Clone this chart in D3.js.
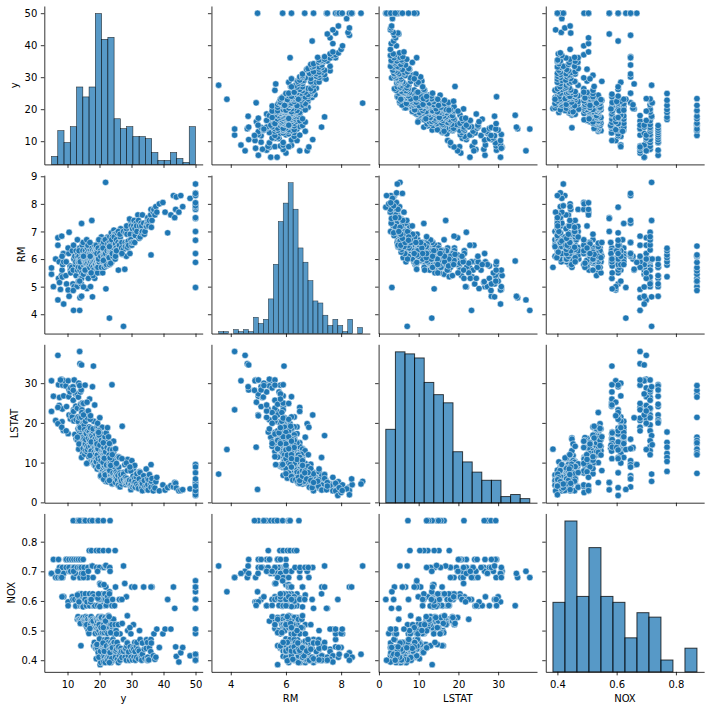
<!DOCTYPE html>
<html><head><meta charset="utf-8">
<script src="https://cdn.jsdelivr.net/npm/d3@7"></script>
<style>
body{margin:0;background:#fff}
svg text{font-family:"DejaVu Sans",sans-serif;font-size:10px;fill:#000}
</style>
</head><body><svg id="c" width="709" height="709"></svg>
<script>
// variables shown (column order)
const variables = ["y", "RM", "LSTAT", "NOX"];

const observations = [
[5.0,5.45,30.6,.693],[5.0,5.68,22.9,.693],[5.6,5.0,26.7,.74],[6.3,6.0,20.6,.679],
[7.0,4.52,37.0,.70],[7.2,5.3,29.6,.74],[7.4,5.9,24.4,.70],[7.5,5.15,26.4,.713],[8.1,5.4,31.0,.70],[8.3,5.6,30.8,.693],[8.4,5.35,23.5,.713],[8.5,5.8,29.5,.679],[8.7,6.2,18.1,.614],[8.8,4.37,30.6,.693],[8.8,5.9,26.8,.614],[8.3,6.1,20.3,.614],[7.0,6.5,23.9,.679],[7.8,4.9,30.8,.679],[7.0,6.77,19.8,.70],[8.2,6.83,18.9,.679],
[9.5,5.4,29.3,.74],[9.7,5.1,24.1,.74],[10.2,4.88,30.6,.597],[10.4,6.2,26.6,.70],[10.5,4.65,28.3,.74],[10.8,5.75,27.8,.713],[10.2,6.4,17.3,.584],[9.6,5.9,18.0,.713],[10.9,5.6,21.0,.70],[10.5,6.97,22.0,.713],
[11.0,5.5,28.8,.70],[11.3,5.7,22.0,.74],[11.5,6.3,21.5,.614],[11.7,5.1,29.1,.605],[11.8,5.6,25.7,.713],[11.9,4.14,23.3,.679],[12.0,6.0,20.5,.74],[12.1,5.0,30.8,.713],[12.3,6.1,17.1,.605],[12.5,5.8,27.3,.693],[12.7,5.4,20.8,.74],[12.7,6.3,16.0,.583],[13.0,5.0,27.3,.871],[11.9,6.5,22.9,.70],[12.6,5.9,24.2,.583],[11.8,4.86,28.2,.871],
[13.1,5.6,23.7,.713],[13.1,6.1,15.7,.538],[13.3,5.9,18.5,.547],[13.3,6.2,21.5,.605],[13.4,5.18,26.5,.871],[13.4,5.7,20.3,.74],[13.5,5.9,13.4,.624],[13.6,6.1,18.1,.538],[13.8,4.14,37.97,.679],[13.8,5.95,21.3,.713],[13.8,6.4,19.0,.624],[13.9,5.6,17.6,.538],[14.0,5.3,27.8,.584],[14.1,6.0,16.9,.532],[14.1,5.7,24.7,.74],[14.2,6.3,16.2,.449],[14.3,5.1,28.3,.713],[14.4,5.3,21.4,.871],[14.4,6.2,18.3,.624],[14.5,5.9,23.3,.605],[14.5,5.5,22.6,.538],[14.6,6.5,15.0,.609],[14.8,6.0,14.3,.584],[14.9,5.8,20.0,.74],[14.9,6.15,19.8,.544],[15.0,5.45,16.4,.871],[13.5,5.2,30.0,.614],[14.6,5.9,25.0,.583],[13.6,6.3,14.7,.597],[14.0,5.9,18.8,.524],[14.8,6.3,12.3,.614],[13.8,5.2,29.4,.871],[13.9,4.6,34.9,.679],[14.4,4.65,34.6,.693],[14.4,7.29,11.3,.624],[14.9,6.6,13.6,.58],[13.1,6.7,16.4,.62],
[15.2,5.96,19.5,.713],[15.2,6.1,16.0,.532],[15.3,6.0,18.3,.538],[15.4,5.62,12.1,.871],[15.4,6.2,14.5,.605],[15.6,5.57,14.7,.871],[15.6,5.85,20.4,.624],[15.6,6.3,13.0,.52],[15.7,6.0,17.6,.538],[15.7,5.9,15.8,.547],[15.9,6.05,17.3,.584],[16.0,5.85,22.6,.605],[16.1,6.2,12.7,.51],[16.1,5.95,14.1,.538],[16.2,6.4,13.3,.544],[16.3,5.9,21.2,.679],[16.4,6.0,18.0,.713],[16.5,5.7,16.1,.50],[16.6,6.1,13.9,.532],[16.7,6.3,11.4,.49],[16.8,5.36,17.7,.77],[16.8,6.0,19.0,.52],[16.9,6.2,15.2,.624],[16.9,5.8,26.0,.584],[15.0,6.1,24.9,.679],[15.5,5.6,29.5,.605],[16.4,6.5,10.0,.538],[16.1,4.93,25.2,.597],[15.0,4.99,22.0,.693],[16.0,6.7,9.8,.52],[16.5,5.3,23.0,.70],
[17.0,5.69,15.6,.871],[17.1,6.0,16.9,.538],[17.2,6.3,14.1,.52],[17.2,5.9,18.7,.605],[17.3,6.1,13.0,.544],[17.4,6.2,12.9,.547],[17.5,5.78,15.1,.77],[17.5,6.0,17.0,.532],[17.6,7.4,16.8,.718],[17.7,6.4,11.7,.51],[17.8,4.63,29.1,.718],[17.8,5.88,15.0,.871],[17.8,6.3,14.7,.538],[17.9,6.1,16.3,.624],[18.0,5.7,18.0,.679],[18.1,5.93,34.3,.584],[18.2,6.25,10.3,.449],[18.3,6.2,12.6,.524],[18.4,6.05,15.8,.585],[18.4,6.5,9.5,.46],[18.5,5.95,13.9,.538],[18.6,6.3,12.0,.52],[18.7,5.8,16.0,.532],[18.7,6.2,11.1,.49],[18.8,6.4,10.2,.448],[18.9,6.0,17.1,.524],[18.9,6.1,14.4,.51],[19.0,5.9,13.9,.77],[18.2,5.6,20.4,.614],[17.1,6.1,20.9,.605],[18.5,5.3,24.5,.584],[17.2,5.0,21.8,.597],[17.0,6.6,11.8,.507],[18.0,5.4,18.5,.532],[18.8,5.8,9.1,.44],[17.4,5.5,15.2,.605],
[19.0,6.0,15.2,.538],[19.1,6.33,15.5,.713],[19.1,5.7,11.5,.449],[19.2,6.4,13.0,.52],[19.2,5.9,18.9,.538],[19.3,6.1,8.4,.437],[19.3,5.6,12.8,.507],[19.4,6.08,13.4,.871],[19.4,6.45,14.1,.532],[19.4,5.8,17.7,.585],[19.5,6.0,9.5,.448],[19.5,6.2,16.3,.493],[19.6,6.12,12.5,.871],[19.6,5.85,11.9,.44],[19.6,6.3,19.0,.614],[19.7,5.9,12.3,.51],[19.7,6.6,10.9,.453],[19.8,6.0,16.6,.538],[19.8,5.5,14.1,.547],[19.9,6.05,12.3,.77],[19.9,6.25,8.8,.46],[19.9,5.75,13.8,.50],[20.0,6.51,14.0,.713],[20.0,5.9,11.2,.431],[20.0,6.3,17.0,.524],[20.1,6.0,9.7,.44],[20.1,6.15,15.4,.538],[20.2,5.7,13.4,.385],[20.2,6.45,8.9,.448],[20.3,5.95,12.4,.51],[20.3,6.2,18.6,.544],[20.4,6.5,10.3,.46],[20.4,5.8,13.8,.489],[20.5,6.1,9.4,.445],[20.5,6.4,15.0,.532],[20.6,5.85,11.8,.453],[20.6,6.2,7.1,.435],[20.6,5.6,17.2,.605],[20.7,6.4,12.0,.52],[20.7,6.0,15.9,.449],[20.8,6.25,10.7,.438],[20.8,5.95,18.9,.624],[20.8,6.6,13.4,.51],[20.9,6.0,9.8,.46],[20.9,5.7,11.4,.493],[20.9,6.3,16.0,.538],[21.0,6.1,8.5,.428],[21.0,5.85,12.6,.52],[21.0,6.7,7.9,.464],[20.1,5.6,21.3,.659],[20.3,6.0,13.6,.655],[19.4,5.5,19.9,.70],[19.8,6.1,18.0,.605],[20.6,6.8,7.0,.429],[19.3,6.3,11.9,.442],[20.2,5.85,12.9,.583],[19.0,6.5,10.2,.405],[20.4,6.6,6.5,.40],[19.5,5.7,13.5,.609],[20.0,6.0,9.7,.472],[21.0,5.5,14.8,.585],
[19.2,6.2,14.7,.453],[19.6,6.4,11.0,.426],[19.9,5.9,16.9,.52],[20.3,6.3,11.3,.43],[20.5,5.95,10.5,.51],[20.7,6.15,13.0,.547],[20.9,6.5,12.2,.445],[20.1,6.2,14.4,.581],[19.7,6.0,17.6,.624],[20.4,6.1,6.7,.392],[19.8,6.7,9.0,.41],[20.6,5.7,15.6,.544],
[21.1,6.2,13.0,.449],[21.2,6.15,12.0,.871],[21.2,6.15,11.3,.77],[21.2,5.9,8.8,.413],[21.3,6.4,11.0,.52],[21.4,6.69,13.0,.713],[21.4,6.0,9.3,.437],[21.5,6.3,15.6,.493],[21.5,5.7,13.5,.538],[21.6,6.42,9.14,.469],[21.6,6.0,7.2,.41],[21.7,6.55,12.1,.51],[21.7,6.2,7.4,.442],[21.8,5.9,9.9,.46],[21.8,6.3,14.3,.544],[21.9,8.78,5.29,.718],[21.9,6.5,10.2,.448],[21.9,5.8,15.2,.605],[22.0,6.1,6.8,.40],[22.0,6.4,11.7,.499],[22.0,4.92,13.9,.585],[22.1,6.0,8.6,.428],[22.2,6.3,12.9,.52],[22.2,6.6,6.9,.405],[22.3,5.95,10.5,.453],[22.3,6.45,11.9,.538],[22.4,6.15,9.6,.47],[22.4,6.7,8.0,.44],[22.5,6.0,16.2,.524],[22.5,6.35,5.9,.431],[22.6,6.2,10.9,.49],[22.6,6.8,7.3,.411],[22.7,5.9,12.3,.51],[22.7,6.4,7.3,.433],[22.8,6.3,10.3,.77],[22.8,6.05,14.1,.46],[22.9,6.01,12.43,.524],[22.9,6.5,8.4,.445],[23.0,6.2,9.5,.415],[23.0,6.3,13.4,.605],[22.0,6.2,15.9,.647],[21.4,6.1,13.8,.655],[21.7,5.9,16.5,.624],[21.3,6.6,5.8,.394],[22.1,5.75,17.5,.585],[21.8,6.7,6.9,.392],[22.5,5.8,18.8,.614],[22.0,6.0,14.5,.72],
[21.1,6.4,10.1,.458],[21.5,6.0,11.1,.43],[21.9,6.2,12.7,.532],[22.2,5.8,9.4,.448],[22.6,6.55,5.2,.40],[22.8,6.1,16.5,.55],[21.2,5.95,15.0,.51],[22.4,6.3,13.8,.60],
[23.1,3.86,13.3,.631],[23.1,6.3,9.5,.437],[23.2,6.81,12.0,.713],[23.2,6.0,14.7,.51],[23.3,6.47,7.3,.871],[23.3,6.4,8.6,.449],[23.3,6.0,13.3,.70],[23.4,6.5,6.8,.426],[23.4,6.2,9.9,.493],[23.5,6.3,8.1,.40],[23.5,6.1,11.4,.52],[23.6,6.6,7.0,.44],[23.6,5.9,6.8,.46],[23.7,5.95,12.0,.499],[23.7,6.95,5.9,.41],[23.8,6.35,8.8,.433],[23.8,6.1,12.0,.538],[23.9,6.5,7.6,.448],[23.9,5.9,29.6,.584],[24.0,6.575,4.98,.538],[24.0,6.3,9.4,.453],[24.1,6.45,8.0,.437],[24.1,6.1,10.7,.51],[24.2,6.6,6.6,.413],[24.2,6.3,9.7,.47],[24.3,6.0,8.5,.431],[24.3,6.05,6.1,.398],[24.4,6.2,15.4,.489],[24.4,6.5,7.9,.445],[24.5,6.35,9.1,.46],[24.5,7.05,5.5,.404],[24.6,6.6,7.2,.429],[24.6,6.1,11.5,.524],[24.7,6.45,8.2,.442],[24.7,6.9,5.0,.411],[24.8,6.9,9.6,.448],[24.8,6.6,6.9,.43],[24.9,6.39,7.8,.77],[24.9,6.5,6.3,.415],[25.0,6.7,5.7,.401],[25.0,6.2,10.4,.507],[24.4,6.1,12.6,.538],[23.1,5.8,14.8,.624],[24.1,6.0,13.2,.605],[23.6,6.5,5.2,.392],[24.7,6.0,11.0,.584],[23.9,6.25,10.6,.52],[23.2,6.6,8.0,.409],[24.5,6.4,7.1,.401],[23.0,6.05,11.9,.547],[24.0,6.8,4.6,.40],
[23.3,6.5,11.2,.426],[23.8,6.7,4.8,.405],[24.2,6.1,7.4,.437],[24.6,6.8,9.0,.46],[23.5,5.85,9.3,.493],[24.0,6.2,12.0,.442],[23.1,6.45,5.5,.392],[24.9,6.0,7.2,.52],
[25.0,6.55,5.0,.41],[25.1,6.2,6.5,.431],[25.2,6.4,7.7,.448],[25.3,6.7,6.0,.437],[25.5,6.95,7.2,.46],[25.6,6.25,5.6,.403],[25.8,6.6,6.8,.442],[26.0,6.3,8.9,.445],[26.2,6.45,4.8,.415],[26.4,6.5,7.4,.489],[26.5,6.8,5.3,.426],[26.6,7.1,6.2,.404],[26.7,6.6,7.0,.44],[25.9,5.6,11.5,.52],[25.2,6.3,9.5,.50],[26.2,6.5,11.3,.605],[25.0,6.1,13.5,.647],[25.9,7.0,4.3,.392],
[25.3,6.3,9.8,.489],[26.4,6.9,3.9,.40],[27.0,6.6,4.6,.409],[27.5,7.0,7.5,.47],[28.8,6.4,10.8,.50],[29.8,7.3,3.2,.415],[30.6,6.9,8.5,.52],[26.9,6.4,5.4,.43],
[27.1,6.17,19.15,.524],[27.5,3.561,7.12,.718],[27.5,6.35,5.7,.43],[27.9,5.63,9.5,.659],[28.0,6.6,5.0,.41],[28.1,6.45,6.3,.437],[28.2,6.95,4.5,.44],[28.4,7.1,4.9,.40],[28.5,7.2,6.0,.448],[28.6,6.9,5.4,.46],[28.7,6.43,5.21,.458],[28.7,6.6,8.0,.55],[28.4,6.1,9.9,.614],[27.0,6.2,11.0,.605],
[29.0,6.65,5.3,.415],[29.1,6.5,4.8,.428],[29.4,7.45,5.6,.40],[29.6,6.9,4.3,.445],[29.8,6.7,7.9,.489],[29.9,7.2,4.4,.41],[30.1,6.5,5.5,.433],[30.1,6.6,10.5,.647],[30.3,7.1,3.9,.401],[30.5,6.6,6.6,.442],[30.7,7.2,4.2,.437],[30.8,7.4,5.0,.41],[31.0,6.9,6.1,.46],[31.0,6.6,9.3,.647],[29.5,6.2,8.9,.51],
[31.1,7.1,5.1,.429],[31.2,6.85,3.8,.40],[31.5,7.3,6.4,.448],[31.6,7.2,4.6,.41],[31.7,7.0,7.2,.46],[32.0,7.6,4.1,.437],[32.2,7.4,3.5,.405],[32.4,6.75,5.9,.431],[32.5,7.2,7.7,.50],[32.7,6.8,7.5,.47],[33.0,7.3,4.4,.415],
[33.1,6.95,5.0,.41],[33.2,7.2,3.6,.40],[33.4,7.0,2.94,.458],[33.4,7.6,4.7,.42],[33.8,7.3,6.7,.647],[34.0,6.9,5.5,.437],[34.2,7.0,4.0,.405],[34.6,7.2,8.4,.44],[34.7,7.185,4.03,.469],[34.9,7.3,3.2,.40],[35.0,7.4,5.9,.46],
[35.1,7.5,4.5,.41],[35.2,7.3,3.1,.40],[35.4,7.2,5.7,.401],[35.6,7.4,7.0,.442],[36.0,7.6,4.6,.429],[36.1,7.8,3.8,.47],[36.2,7.15,5.33,.458],[36.4,7.4,6.0,.647],[36.1,6.15,9.5,.647],[36.8,7.7,2.9,.415],
[37.0,7.8,4.0,.489],[37.3,7.6,3.6,.403],[37.6,7.9,5.2,.41],[38.7,8.0,2.9,.443],[37.9,7.7,6.3,.505],
[39.8,8.05,4.4,.489],[40.5,7.7,3.1,.505],[41.3,6.95,3.7,.605],[42.3,7.6,4.2,.505],
[43.1,8.3,3.9,.647],[43.5,7.5,5.0,.575],[43.8,7.8,4.8,.445],[44.0,8.25,3.6,.413],[44.8,7.7,2.9,.394],
[45.4,8.3,3.0,.425],[46.0,7.9,3.2,.443],[48.3,8.2,3.4,.415],
[50,4.97,3.26,.631],[50,5.88,9.53,.668],[50,6.2,8.88,.647],[50,6.68,7.44,.605],[50,7.0,5.0,.575],[50,7.47,3.16,.575],[50,7.8,2.88,.505],[50,7.88,1.73,.605],[50,8.0,2.47,.49],[50,7.93,3.7,.42],[50,8.4,4.45,.41],[50,8.3,1.92,.40],[50,8.72,4.63,.42],[50,8.38,5.91,.647],[50,8.04,2.97,.505],[50,7.5,4.1,.40]
];

// diagonal histogram counts (equal-width bins over each variable's range)
const histY     = [4,17,11,19,39,34,39,76,63,64,23,18,19,14,14,13,6,2,2,6,3,1,19];
const histRM    = [1,1,0,2,1,2,1,8,5,7,17,34,55,64,74,61,42,35,26,16,15,9,4,7,4,1,7,0,3];
const histLSTAT = [36,74,73,71,59,53,49,25,20,15,11,11,3,4,2];
const histNOX   = [47,102,51,84,51,47,23,40,37,8,0,16];
const histCounts = [histY, histRM, histLSTAT, histNOX];

// tick values
const yTickValues = [[10,20,30,40,50],[4,5,6,7,8,9],[0,10,20,30],[0.4,0.5,0.6,0.7,0.8]];
const xTickValues = [[10,20,30,40,50],[4,6,8],[0,10,20,30],[0.4,0.6,0.8]];

const svg = d3.select("#c");
const W = 158.4, H = 158.4;
const left0 = 44.3, top0 = 6.0, stepX = 167.15, stepY = 169.15;
const n = variables.length;

function extentOf(i){ return d3.extent(observations, d => d[i]); }
function padded(i){ const [a,b] = extentOf(i); const p = (b-a)*0.05; return [a-p, b+p]; }

const xScales = variables.map((v,i) => d3.scaleLinear().domain(padded(i)).range([left0+i*stepX, left0+i*stepX+W]));
const yScales = variables.map((v,i) => d3.scaleLinear().domain(padded(i)).range([top0+i*stepY+H, top0+i*stepY]));

const pointColor = "#1f77b4";

for (let r = 0; r < n; r++) {
  for (let c = 0; c < n; c++) {
    const g = svg.append("g");
    const x = xScales[c], y = yScales[r];
    const x0 = x.range()[0], yb = y.range()[0], yt = y.range()[1];
    if (r === c) {
      const counts = histCounts[c];
      const [a,b] = extentOf(c);
      const k = counts.length;
      const bw = (b-a)/k;
      const bins = counts.map((cnt,i) => ({x0: a+i*bw, x1: a+(i+1)*bw, cnt}));
      const hy = d3.scaleLinear().domain([0, d3.max(counts)*1.05]).range([yb, yt]);
      const pxW = x(a+bw) - x(a);
      const lw = Math.min(1, pxW*0.1);
      g.selectAll("rect").data(bins.filter(d => d.cnt > 0)).join("rect")
        .attr("x", d => x(d.x0)).attr("width", d => x(d.x1)-x(d.x0))
        .attr("y", d => hy(d.cnt)).attr("height", d => hy(0)-hy(d.cnt))
        .attr("fill", "rgba(31,119,180,0.75)")
        .attr("stroke", "rgba(0,0,0,0.75)").attr("stroke-width", lw);
    } else {
      g.selectAll("circle").data(observations).join("circle")
        .attr("cx", d => x(d[c])).attr("cy", d => y(d[r]))
        .attr("r", 3.2).attr("fill", pointColor)
        .attr("stroke", "#fff").attr("stroke-width", 0.5);
    }
    // axes
    const fmt = d => String(d);
    const ax = g.append("g").attr("transform", `translate(${x0},0)`)
      .call(d3.axisLeft(y).tickValues(yTickValues[r]).tickSize(3.5).tickPadding(3.5).tickSizeOuter(0)
        .tickFormat(c === 0 ? fmt : () => ""));
    const bx = g.append("g").attr("transform", `translate(0,${yb})`)
      .call(d3.axisBottom(x).tickValues(xTickValues[c]).tickSize(3.5).tickPadding(3.5).tickSizeOuter(0)
        .tickFormat(r === n-1 ? fmt : () => ""));
    [ax, bx].forEach(a => {
      a.attr("font-family", null).attr("font-size", null);
      a.selectAll("path,line").attr("stroke", "#000").attr("stroke-width", 0.8);
      a.selectAll("text").attr("fill", "#000");
    });
    bx.selectAll("text").attr("dy", "0.95em");
    ax.selectAll("text").attr("dy", "0.36em");
    if (c === 0) {
      const bb = ax.node().getBBox();
      const lx = x0 + bb.x - 6.4;
      const cy = (yb + yt) / 2;
      g.append("text").attr("transform", `translate(${lx},${cy}) rotate(-90)`)
        .attr("text-anchor", "middle").text(variables[r]);
    }
    if (r === n-1) {
      g.append("text").attr("x", (x.range()[0]+x.range()[1])/2).attr("y", yb + 29.7)
        .attr("text-anchor", "middle").text(variables[c]);
    }
  }
}
</script>
</body></html>
